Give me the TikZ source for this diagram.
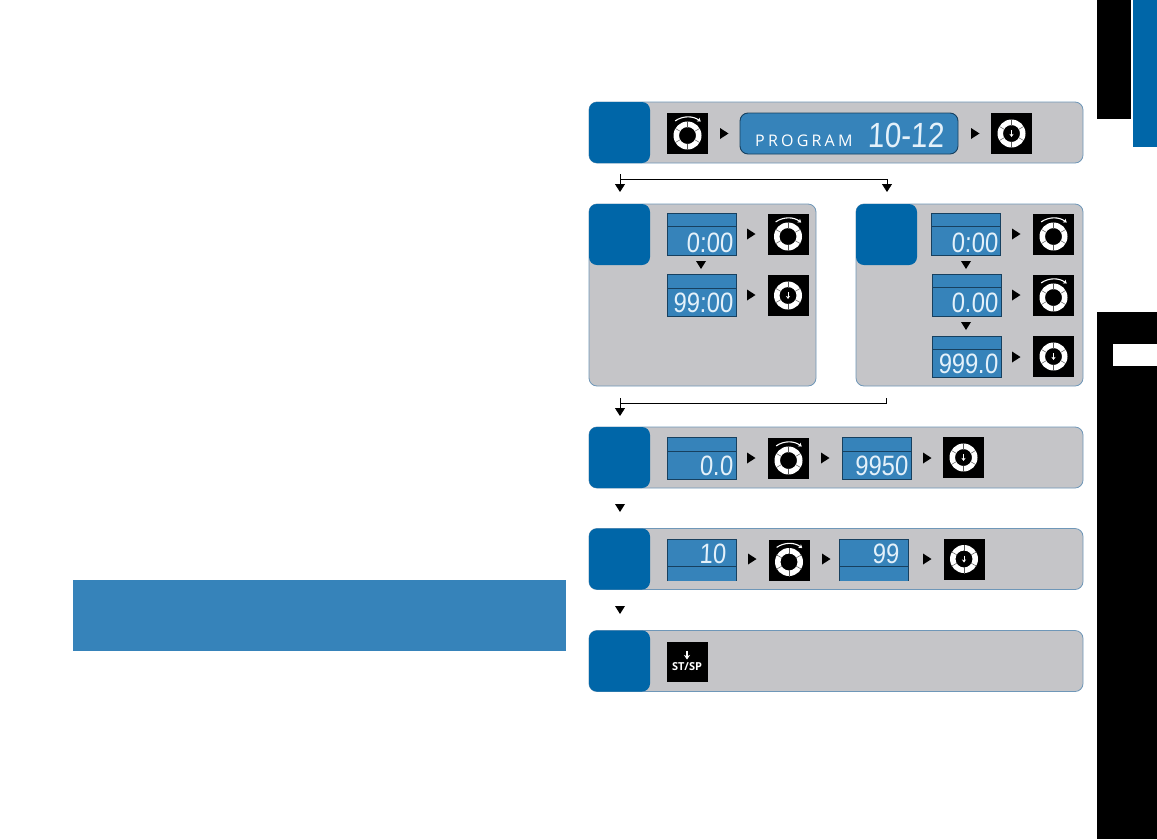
\documentclass[tikz,border=0pt]{standalone}
\usepackage{fontspec}
\setmainfont{Open Sans}
\newfontfamily\lcdfont[FakeSlant=0.05,FakeStretch=0.85]{Liberation Sans}
\newfontfamily\progfont[LetterSpace=20]{Open Sans}
\usetikzlibrary{arrows.meta}
\definecolor{stepblue}{HTML}{0066A8}
\definecolor{lcdblue}{HTML}{3683BA}
\definecolor{lcdedge}{HTML}{17405F}
\definecolor{panelgrey}{HTML}{C5C5C8}
\definecolor{paneledge}{HTML}{6F97B8}
\definecolor{lcdwhite}{HTML}{E4F1FA}
\tikzset{
    panel/.style={draw=paneledge, fill=panelgrey, line width=0.8pt, rounded corners=8pt, anchor=north west, inner sep=0pt, outer sep=0pt},
    corner/.style={fill=stepblue, rounded corners=8pt, anchor=north west, inner sep=0pt, outer sep=0pt, minimum width=61pt, minimum height=61pt},
    lcdtext/.style={anchor=base east, inner sep=0pt, text=lcdwhite, font=\lcdfont\fontsize{28}{28}\selectfont},
    flow/.style={line width=0.8pt, -{Triangle[length=8pt,width=10pt]}},
}
% #1,#2 top left, #3,#4 bottom right, #5 divider
\newcommand{\lcdbox}[5]{
    \fill [lcdblue] (#1,#2) rectangle (#3,#4);
    \draw [lcdedge, line width=0.9pt] (#1,#2) rectangle (#3,#4);
    \draw [lcdedge, line width=0.9pt] (#1,#5) -- (#3,#5);
}
\newcommand{\triright}[2]{\fill (#1-4,#2-5.5) -- (#1+4.5,#2) -- (#1-4,#2+5.5) -- cycle;}
\newcommand{\tridown}[2]{\fill (#1-5,#2-4) -- (#1+5,#2-4) -- (#1,#2+4) -- cycle;}
% #1,#2 centre of the black square
\newcommand{\ringdial}[2]{
    \fill (#1-20.5,#2-20.5) rectangle (#1+20.5,#2+20.5);
    \fill [white, even odd rule] (#1,#2+2) circle (14pt) (#1,#2+2) circle (8.5pt);
    \foreach \a in {30,90,...,330}
        \draw [black!65, line width=0.5pt] (#1,#2+2) ++(\a:8pt) -- ++(\a:6.5pt);
    \draw [white, line width=1.1pt, -{Stealth[length=3.5pt,width=4.5pt]}] (#1,#2+5) ++(125:21.5pt) arc [start angle=125, end angle=52, radius=21.5pt];
}
\newcommand{\pushdial}[2]{
    \fill (#1-20.5,#2-20.5) rectangle (#1+20.5,#2+20.5);
    \fill [white, even odd rule] (#1,#2) circle (14pt) (#1,#2) circle (8.5pt);
    \foreach \a in {30,90,...,330}
        \draw [black!65, line width=0.5pt] (#1,#2) ++(\a:8pt) -- ++(\a:6.5pt);
    \draw [white, line width=0.8pt, -{Stealth[length=3pt,width=4pt]}] (#1,#2-3.5) -- (#1,#2+3.5);
}
\begin{document}
\begin{tikzpicture}[x=1pt,y=-1pt]
    \useasboundingbox (0,0) rectangle (1157,839);
    \fill [white] (0,0) rectangle (1157,839);

    % side tabs and banner
    \fill (1097,0) rectangle (1131,119);
    \fill [stepblue] (1133,0) rectangle (1157,147);
    \fill (1097,312) rectangle (1157,839);
    \fill [white] (1113,344) rectangle (1157,366);
    \fill [lcdblue] (73,580) rectangle (566,651);

    % panels
    \node [panel, minimum width=494pt, minimum height=61pt] (panelA) at (589,102) {};
    \node [panel, minimum width=227pt, minimum height=182pt] (panelB) at (589,204) {};
    \node [panel, minimum width=227pt, minimum height=182pt] (panelC) at (856,204) {};
    \node [panel, minimum width=494pt, minimum height=61pt] (panelD) at (589,427) {};
    \node [panel, minimum width=494pt, minimum height=61pt] (panelE) at (589,528.5) {};
    \node [panel, minimum width=494pt, minimum height=61pt] (panelF) at (589,630.5) {};
    \foreach \n/\x/\y in {A/589/102,B/589/204,C/856/204,D/589/427,E/589/528.5,F/589/630.5}
        \node [corner] (corner\n) at (\x,\y) {};

    % connectors
    \coordinate (splitA) at (620,174);
    \coordinate (turnA) at (620,179);
    \coordinate (leftA) at (620,192);
    \coordinate (cornerR) at (887,179);
    \coordinate (rightA) at (887,192);
    \draw [flow] (splitA) -- (leftA);
    \draw [line width=0.8pt] (turnA) -- (cornerR);
    \draw [flow] (cornerR) -- (rightA);
    \coordinate (joinL) at (620,398);
    \coordinate (joinB) at (620,416);
    \coordinate (joinM) at (620,403);
    \coordinate (joinN) at (886,403);
    \coordinate (joinR) at (886,398);
    \draw [flow] (joinL) -- (joinB);
    \draw [line width=0.8pt] (joinM) -- (joinN) -- (joinR);
    \foreach \y in {508,610}
        {\tridown{620}{\y}}
    \foreach \x/\y in {701/265,966/265,966/326}
        {\tridown{\x}{\y}}

    % small arrows
    \foreach \x/\y in {724/133.5,975/133.5,751/234,751/295,1016/234,1016/295,1016/357,751/458,825/458,927/458,752/559,826/559,927/559}
        {\triright{\x}{\y}}

    % displays
    \fill [lcdblue, rounded corners=8pt] (740,113) rectangle (958,154);
    \draw [lcdedge, line width=0.9pt, rounded corners=8pt] (740,113) rectangle (958,154);
    \node [anchor=base west, inner sep=0pt, text=white, font=\progfont\fontsize{16}{16}\selectfont] (prog) at (755,146) {PROGRAM};
    \node [lcdtext, font=\lcdfont\fontsize{35}{35}\selectfont] (progno) at (944,147) {10-12};

    \lcdbox{667}{213}{736}{255}{226}
    \lcdbox{667}{274}{736}{316}{288}
    \lcdbox{931}{213}{1000}{255}{226}
    \lcdbox{932}{274}{1001}{316}{287}
    \lcdbox{932}{336}{1001}{377}{349}
    \lcdbox{667}{437}{736}{479}{451}
    \lcdbox{842}{437}{911}{479}{451}
    \node [lcdtext] (timeA) at (733,252) {0:00};
    \node [lcdtext] (timeB) at (733,312) {99:00};
    \node [lcdtext] (timeC) at (998,252) {0:00};
    \node [lcdtext] (timeD) at (998,312) {0.00};
    \node [lcdtext] (timeE) at (998,373) {999.0};
    \node [lcdtext] (speedA) at (733,475) {0.0};
    \node [lcdtext] (speedB) at (908,475) {9950};

    % these two have no lower edge
    \foreach \x/\z in {667/736,839/908}
        {\fill [lcdblue] (\x,539) rectangle (\z,581);
        \draw [lcdedge, line width=0.9pt] (\x,581) -- (\x,539) -- (\z,539) -- (\z,581);
        \draw [lcdedge, line width=0.9pt] (\x,566) -- (\z,566);}
    \node [lcdtext] (tempA) at (726,563) {10};
    \node [lcdtext] (tempB) at (899,563) {99};

    % dials
    \foreach \x/\y in {687.5/133.5,788/234.5,1053.5/234.5,1053.5/295.5,788.5/458.5,789/560}
        {\ringdial{\x}{\y}}
    \foreach \x/\y in {1011.5/133.5,788/295.5,1053.5/356.5,963.5/457.5,964/559}
        {\pushdial{\x}{\y}}

    % start key
    \fill (667,642) rectangle (708,682);
    \coordinate (keyT) at (687,650.5);
    \coordinate (keyB) at (687,659.5);
    \draw [white, line width=1.3pt, -{Stealth[length=4.5pt,width=6pt]}] (keyT) -- (keyB);
    \node [text=white, inner sep=0pt, font=\bfseries\fontsize{11}{11}\selectfont] (stsp) at (687,667) {ST/SP};
\end{tikzpicture}
\end{document}
